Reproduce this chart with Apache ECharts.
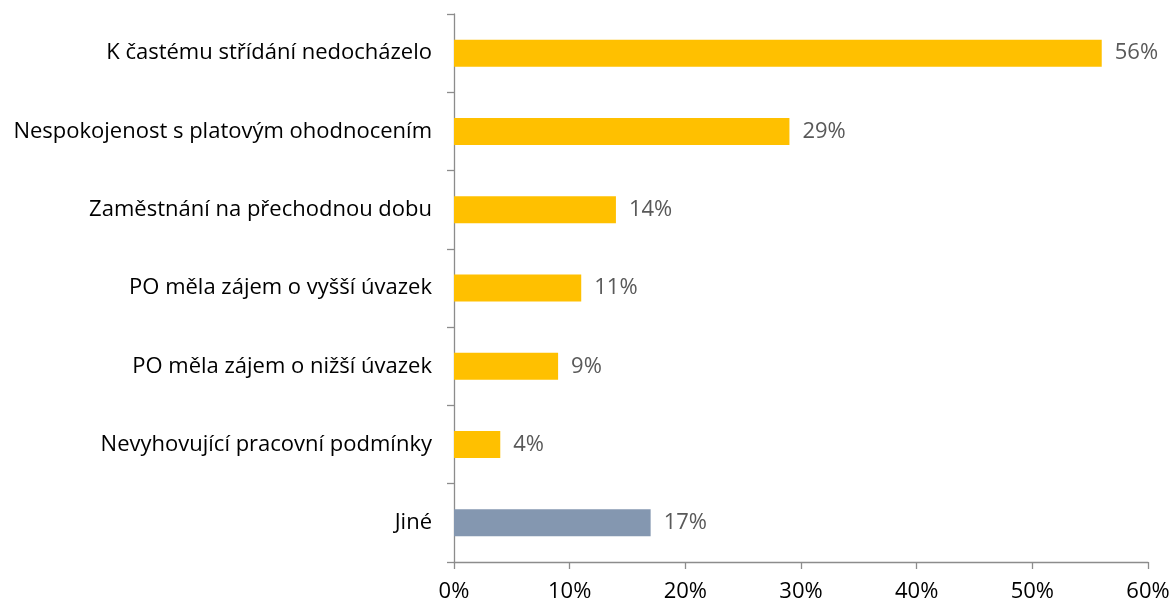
<!DOCTYPE html>
<html>
<head>
<meta charset="utf-8">
<script src="https://cdn.jsdelivr.net/npm/echarts@6/dist/echarts.min.js"></script>
<style>
  html, body { margin: 0; padding: 0; background: #fff; }
  #chart { width: 1173px; height: 603px; }
</style>
</head>
<body>
<div id="chart"></div>
<script>
// duvody (odshora dolu)
const categories = [
  "K častému střídání nedocházelo",
  "Nespokojenost s platovým ohodnocením",
  "Zaměstnání na přechodnou dobu",
  "PO měla zájem o vyšší úvazek",
  "PO měla zájem o nižší úvazek",
  "Nevyhovující pracovní podmínky",
  "Jiné"
];
const values = [56, 29, 14, 11, 9, 4, 17];
const xTicks = [0, 10, 20, 30, 40, 50, 60];

const yellow = "#FFC000";
const grey = "#8497B0";
const font = "'Open Sans', 'DejaVu Sans', sans-serif";

let chart = echarts.init(document.getElementById("chart"));
chart.setOption({
  animation: false,
  grid: { left: 454, right: 25, top: 14, bottom: 40 },
  xAxis: {
    type: "value",
    min: xTicks[0],
    max: xTicks[xTicks.length - 1],
    interval: 10,
    axisLine: { show: true, lineStyle: { color: "#8c8c8c", width: 1.3 } },
    axisTick: { show: true, length: 7, lineStyle: { color: "#8c8c8c", width: 1.3 } },
    splitLine: { show: false },
    axisLabel: {
      formatter: (v) => v + "%",
      color: "#000",
      fontSize: 22,
      fontFamily: font,
      margin: 19
    }
  },
  yAxis: {
    type: "category",
    data: categories,
    inverse: true,
    axisLine: { show: true, lineStyle: { color: "#8c8c8c", width: 1.3 } },
    axisTick: { show: true, length: 7, inside: false, lineStyle: { color: "#8c8c8c", width: 1.3 } },
    axisLabel: {
      color: "#000",
      fontSize: 22,
      fontFamily: font,
      margin: 22
    }
  },
  series: [
    {
      type: "bar",
      barWidth: 27,
      data: values.map((v, i) => ({
        value: v,
        itemStyle: { color: i === values.length - 1 ? grey : yellow }
      })),
      label: {
        show: true,
        position: "right",
        distance: 13,
        formatter: "{c}%",
        color: "#595959",
        fontSize: 22,
        fontFamily: font
      }
    }
  ]
});
</script>
</body>
</html>
